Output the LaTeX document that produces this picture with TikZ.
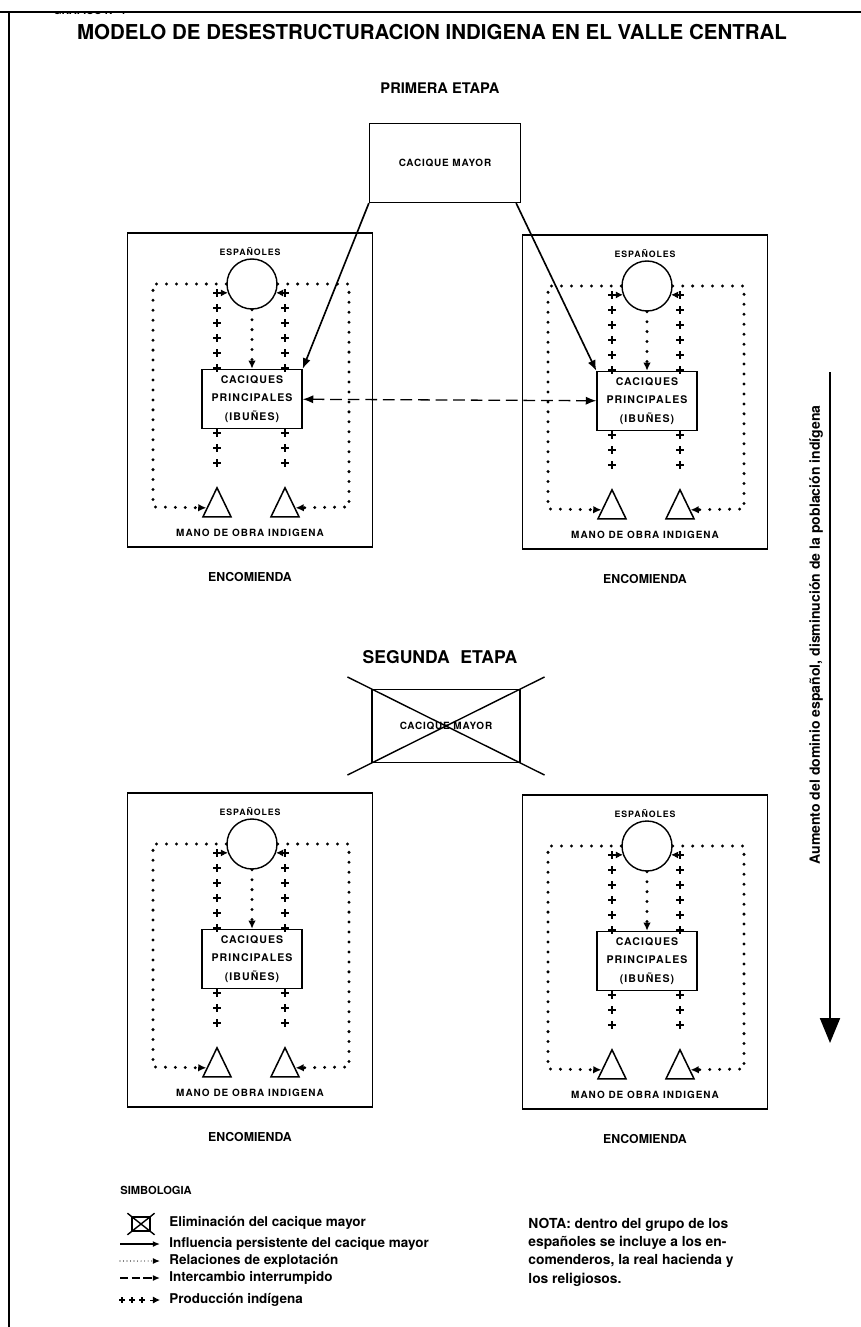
\documentclass[tikz,border=0pt]{standalone}
\usepackage{fontspec}
\setmainfont{TeX Gyre Heros}
\usetikzlibrary{arrows.meta, shapes.geometric, decorations.markings, calc}

\begin{document}
\begin{tikzpicture}[x=0.3mm, y=-0.3mm,
  every node/.style={inner sep=1pt},
  ttl/.style={font=\bfseries\fontsize{17.5}{20}\selectfont},
  etapa/.style={font=\bfseries\fontsize{#1}{18}\selectfont},
  frame/.style={line width=1pt},
  encbox/.style={draw, line width=1.2pt, minimum width=73.5mm, minimum height=94.2mm},
  espcirc/.style={draw, circle, line width=1.2pt, minimum size=15mm, inner sep=0},
  cpbox/.style={draw, line width=1.2pt, minimum width=30mm, minimum height=17.7mm, align=center, font=\bfseries\fontsize{9}{15.5}\selectfont\addfontfeature{LetterSpace=10}},
  cmbox/.style={draw, line width=1.1pt, minimum width=45.3mm, minimum height=23.7mm, font=\bfseries\fontsize{8.5}{10}\selectfont\addfontfeature{LetterSpace=8}},
  mano/.style={draw, isosceles triangle, shape border rotate=90, isosceles triangle stretches, minimum width=8.4mm, minimum height=8.7mm, inner sep=0, line width=1.3pt},
  lbl/.style={font=\bfseries\fontsize{#1}{9}\selectfont\addfontfeature{LetterSpace=10}},
  enc/.style={font=\bfseries\fontsize{10.5}{12}\selectfont},
  rel/.style={line width=2.8pt, line cap=round, dash pattern=on 0pt off 8.5pt},
  reltip/.style={rel, -{Latex[length=7pt,width=6.5pt]}},
  infl/.style={line width=1.4pt, -{Latex[length=9pt,width=7pt]}},
  interc/.style={line width=1.1pt, dash pattern=on 10pt off 5pt},
  prod/.style n args={3}{decoration={markings, mark=between positions #1 and -0.1pt step #2 with {\draw[line width=1.3pt] (-#3,0pt) -- (#3,0pt) (0pt,-#3) -- (0pt,#3);}}, postaction={decorate}},
  prodtip/.style={line width=0.8pt, -{Latex[length=6pt,width=6pt]}},
  leg/.style={anchor=west, font=\bfseries\fontsize{11.5}{13}\selectfont}]
  \useasboundingbox (0,0) rectangle (861,1327);

  % marco de la hoja
  \draw[frame] (0,12) -- (861,12);
  \draw[frame] (9,12) -- (9,1327);
  \begin{scope}
    \clip (0,13) rectangle (300,30);
    \node[anchor=west, font=\bfseries\fontsize{9}{10}\selectfont] (graf) at (52,10) {GRAFICO N\textsuperscript{o} 1};
  \end{scope}

  \node[ttl] (titulo) at (432,32) {MODELO DE DESESTRUCTURACION INDIGENA EN EL VALLE CENTRAL};
  \node[etapa=12.5] (et1) at (440,88) {PRIMERA ETAPA};
  \node[cmbox] (cm1) at (445,163) {CACIQUE MAYOR};
  \node[etapa=15] (et2) at (440,657) {SEGUNDA\hspace{0.6em}ETAPA};
  \node[cmbox, minimum width=44.4mm, minimum height=21.9mm] (cm2) at (446,726) {CACIQUE MAYOR};
  \draw[line width=1.2pt] ($(cm2.north west)!-0.16!(cm2.south east)$) -- ($(cm2.south east)!-0.16!(cm2.north west)$);
  \draw[line width=1.2pt] ($(cm2.north east)!-0.16!(cm2.south west)$) -- ($(cm2.south west)!-0.16!(cm2.north east)$);

  % las cuatro encomiendas
  \foreach \p/\cx/\ty in {e1/250/233, e2/645/235, e3/250/793, e4/645/795}{
    \node[encbox] (\p) at (\cx,\ty+157) {};
    \node[lbl=7.5] (\p-esp) at (\cx,\ty+19) {ESPAÑOLES};
    \node[espcirc] (\p-circ) at (\cx+2,\ty+51) {};
    \node[cpbox] (\p-cp) at (\cx+2,\ty+166) {CACIQUES\\PRINCIPALES\\(IBUÑES)};
    \node[mano] (\p-tl) at (\cx-33,\ty+275) {};
    \node[mano] (\p-tr) at (\cx+35,\ty+275) {};
    \node[lbl=8.5] (\p-mano) at (\cx,\ty+300) {MANO DE OBRA INDIGENA};
    \node[enc] (\p-enc) at (\cx,\ty+344) {ENCOMIENDA};
    % explotacion
    \draw[reltip] (\p-circ.west) -- (\cx-97,\ty+51) -- (\cx-97,\ty+274) -- (\p-tl);
    \draw[reltip] (\p-circ.east) -- (\cx+99,\ty+51) -- (\cx+99,\ty+274) -- (\p-tr);
    \draw[reltip] (\p-circ) -- (\p-cp);
    % produccion
    \coordinate (\p-pl) at (\cx-33,\ty+60);
    \coordinate (\p-pr) at (\cx+35,\ty+60);
    \path[prod={1.2mm}{4.5mm}{3.3pt}] (\p-tl.apex |- \p-cp.south) -- ([yshift=2.5mm]\p-tl.apex);
    \path[prod={1.2mm}{4.5mm}{3.3pt}] (\p-tr.apex |- \p-cp.south) -- ([yshift=2.5mm]\p-tr.apex);
    \path[prod={0mm}{4.5mm}{3.3pt}] (\p-pl) -- (\p-pl |- \p-cp.north);
    \path[prod={0mm}{4.5mm}{3.3pt}] (\p-pr) -- (\p-pr |- \p-cp.north);
    \draw[prodtip] (\p-pl) -- (\p-circ.200);
    \draw[prodtip] (\p-pr) -- (\p-circ.340);
  }

  % primera etapa
  \draw[infl] (cm1.south west) -- (e1-cp.north east);
  \draw[infl] ([xshift=-1.5mm]cm1.south east) -- (e2-cp.north west);
  \draw[interc, {Latex[length=9pt,width=7pt]}-{Latex[length=9pt,width=7pt]}] (e1-cp) -- (e2-cp);

  % flecha lateral
  \coordinate (dtop) at (830,372);
  \coordinate (dbot) at (830,1043);
  \draw[line width=1.8pt, -{Triangle[length=7.5mm,width=6mm]}] (dtop) -- (dbot);
  \node[rotate=90, font=\bfseries\fontsize{12}{14}\selectfont] (dlab) at (816,635) {Aumento del dominio español, disminución de la población indígena};

  % simbologia
  \node[anchor=west, font=\bfseries\fontsize{9.5}{11}\selectfont] (simb) at (119,1190) {SIMBOLOGIA};
  \node[draw, line width=1.2pt, minimum width=5.4mm, minimum height=4.2mm, inner sep=0] (sym) at (141,1224) {};
  \draw[line width=1.2pt] ($(sym.north west)!-0.2!(sym.south east)$) -- ($(sym.south east)!-0.2!(sym.north west)$);
  \draw[line width=1.2pt] ($(sym.north east)!-0.2!(sym.south west)$) -- ($(sym.south west)!-0.2!(sym.north east)$);
  \node[leg] (t1) at (168,1223) {Eliminación del cacique mayor};
  \coordinate (s2a) at (120,1244);
  \coordinate (s2b) at (160,1244);
  \draw[line width=1.2pt, -{Latex[length=6pt,width=5pt]}] (s2a) -- (s2b);
  \node[leg] (t2) at (168,1244) {Influencia persistente del cacique mayor};
  \coordinate (s3a) at (120,1261);
  \coordinate (s3b) at (160,1261);
  \draw[line width=1pt, line cap=round, dash pattern=on 0pt off 3pt, -{Latex[length=6pt,width=5pt]}] (s3a) -- (s3b);
  \node[leg] (t3) at (168,1261) {Relaciones de explotación};
  \coordinate (s4a) at (120,1278);
  \coordinate (s4b) at (160,1278);
  \draw[line width=1.1pt, dash pattern=on 7pt off 3pt, -{Latex[length=6pt,width=5pt]}] (s4a) -- (s4b);
  \node[leg] (t4) at (168,1278) {Intercambio interrumpido};
  \coordinate (s5a) at (122,1300);
  \coordinate (s5b) at (150,1300);
  \coordinate (s5c) at (160,1300);
  \path[prod={0mm}{3mm}{2.4pt}] (s5a) -- (s5b);
  \draw[prodtip] (s5b) -- (s5c);
  \node[leg] (t5) at (168,1300) {Producción indígena};

  \node[anchor=north west, align=left, font=\bfseries\fontsize{11.8}{15.5}\selectfont] (nota) at (527,1217) {NOTA: dentro del grupo de los\\españoles se incluye a los en-\\comenderos, la real hacienda y\\los religiosos.};
\end{tikzpicture}
\end{document}
